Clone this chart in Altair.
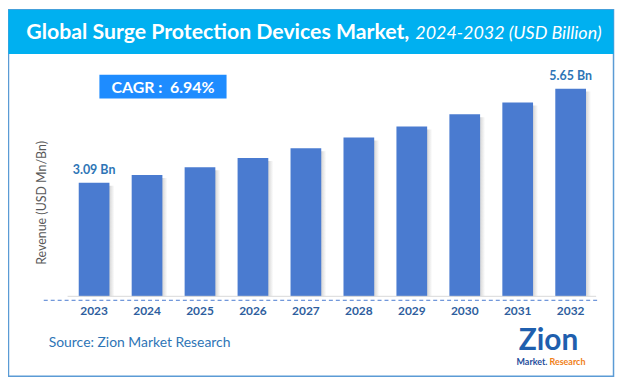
import altair as alt
import pandas as pd

years = ["2023", "2024", "2025", "2026", "2027", "2028", "2029", "2030", "2031", "2032"]
revenue = [3.09, 3.30, 3.51, 3.76, 4.03, 4.32, 4.62, 4.95, 5.27, 5.65]
bar_labels = ["3.09 Bn", "", "", "", "", "", "", "", "", "5.65 Bn"]

title_main = "Global Surge Protection Devices Market,"
title_sub = "2024-2032 (USD Billion)"
cagr_text = "CAGR :\u00a0 6.94%"
y_title = "Revenue (USD Mn/Bn)"
source_text = "Source: Zion Market Research"

W, H = 612, 370
FONT = "Lato"

df = pd.DataFrame({"year": years, "revenue": revenue, "label": bar_labels})

xs = alt.Scale(domain=years, range=[60, 593], paddingInner=0.42, paddingOuter=0.21)
ys = alt.Scale(domain=[0, 6], range=[289, 67])
X = alt.X("year:N", scale=xs, axis=None)
Y = alt.Y("revenue:Q", scale=ys, axis=None)

one = pd.DataFrame({"k": [0]})
base1 = alt.Chart(one)

border = base1.mark_rect(fill="white", stroke="#5b9bd5", strokeWidth=1.5).encode(
    x=alt.value(0.5), x2=alt.value(W - 2.5), y=alt.value(0.5), y2=alt.value(H - 0.5))
band = base1.mark_rect(fill="#00b0f0").encode(
    x=alt.value(0.5), x2=alt.value(W - 2.5), y=alt.value(0.5), y2=alt.value(45))
t1 = base1.mark_text(text=title_main, font=FONT, fontSize=21.4, fontWeight="bold",
                     color="white", align="right", baseline="middle").encode(
    x=alt.value(404), y=alt.value(24))
t2 = base1.mark_text(text=title_sub, font=FONT, fontSize=18, fontStyle="italic",
                     color="white", align="left", baseline="middle").encode(
    x=alt.value(410), y=alt.value(25))
cagr_box = base1.mark_rect(fill="#1e8cff").encode(
    x=alt.value(92), x2=alt.value(220), y=alt.value(66), y2=alt.value(90))
cagr = base1.mark_text(text=cagr_text, font=FONT, fontSize=16, fontWeight="bold",
                       color="white", align="center", baseline="middle").encode(
    x=alt.value(156), y=alt.value(79))
ytitle = base1.mark_text(text=y_title, font=FONT, fontSize=12.5, color="#595959",
                         angle=270, align="center", baseline="middle").encode(
    x=alt.value(34), y=alt.value(195))
grayline = base1.mark_rule(color="#d9d9d9", strokeWidth=1).encode(
    x=alt.value(60), x2=alt.value(592), y=alt.value(289))
dashline = base1.mark_rule(color="#4a7bd0", strokeWidth=1, strokeDash=[4, 3]).encode(
    x=alt.value(36), x2=alt.value(596), y=alt.value(293))
source = base1.mark_text(text=source_text, font=FONT, fontSize=14, color="#2e75b6",
                         align="left", baseline="middle").encode(
    x=alt.value(41), y=alt.value(336))
logo1 = base1.mark_text(text="Zion", font=FONT, fontSize=30, fontWeight="bold",
                        color="#1f5fae", align="center", baseline="alphabetic").encode(
    x=alt.value(544), y=alt.value(343))
logo2 = base1.mark_text(text="Market.", font=FONT, fontSize=9, fontWeight="bold",
                        color="#1f4e9c", align="right", baseline="middle").encode(
    x=alt.value(543), y=alt.value(355))
logo3 = base1.mark_text(text="Research", font=FONT, fontSize=9, fontWeight="bold",
                        color="#f07f19", align="left", baseline="middle").encode(
    x=alt.value(545), y=alt.value(355))

base = alt.Chart(df)
shadow = base.mark_bar(
    xOffset=5, yOffset=3,
    color=alt.Gradient(gradient="linear", x1=0, x2=1, y1=0, y2=0,
                       stops=[alt.GradientStop(offset=0, color="#8c8c8c"),
                              alt.GradientStop(offset=0.75, color="#b0b0b0"),
                              alt.GradientStop(offset=1, color="#ffffff")]),
    opacity=0.8).encode(x=X, y=Y, y2=alt.datum(0))
bars = base.mark_bar(color="#4a7bd0").encode(x=X, y=Y)
vlabels = base.transform_filter(alt.datum.label != "").mark_text(
    font=FONT, fontSize=12.5, fontWeight="bold", color="#2e75b6", dy=-13).encode(
    x=X, y=Y, text="label:N")
ylabels = base.mark_text(font=FONT, fontSize=12, fontWeight="bold", color="#2e5e9e",
                         baseline="middle").encode(x=X, y=alt.value(304), text="year:N")

chart = alt.layer(border, band, t1, t2, cagr_box, cagr, ytitle, shadow, bars, grayline,
                  dashline, vlabels, ylabels, source, logo1, logo2, logo3).properties(
    width=W, height=H, autosize=alt.AutoSizeParams(type="none"), padding=0
).configure_view(stroke=None)

chart.save("out.html", embed_options={"renderer": "svg", "actions": False})
